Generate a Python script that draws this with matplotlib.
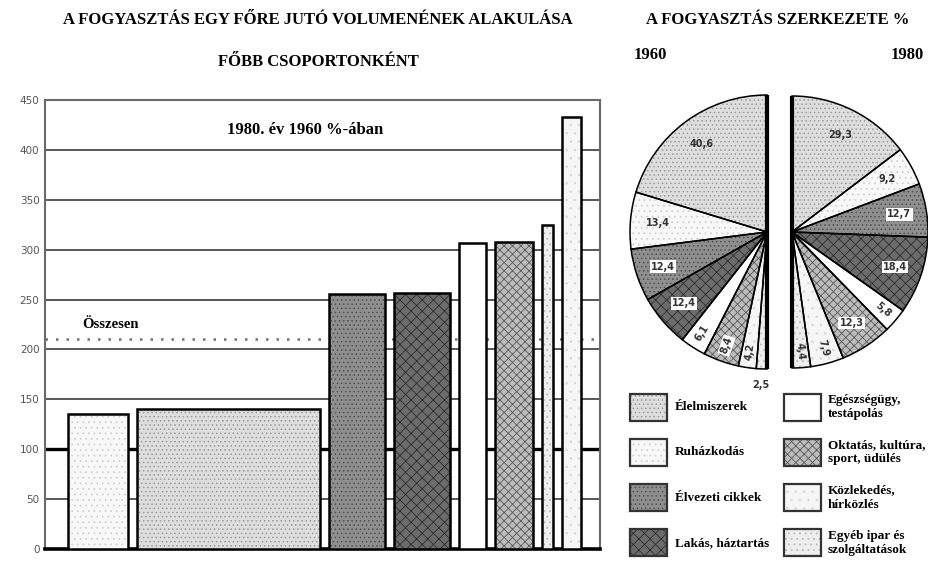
import numpy as np
import matplotlib
matplotlib.use('Agg')
import matplotlib.pyplot as plt
from matplotlib.patches import Rectangle

plt.rcParams['hatch.linewidth'] = 0.6

# consumption groups (same order in pies and legend)
categories = ['Élelmiszerek', 'Ruházkodás', 'Élvezeti cikkek', 'Lakás, háztartás',
              'Egészségügy,\ntestápolás', 'Oktatás, kultúra,\nsport, üdülés',
              'Közlekedés,\nhírközlés', 'Egyéb ipar és\nszolgáltatások']
# structure of consumption, %
share_1960 = [40.6, 13.4, 12.4, 12.4, 6.1, 8.4, 4.2, 2.5]
share_1980 = [29.3, 9.2, 12.7, 18.4, 5.8, 12.3, 7.9, 4.4]
# per capita volume, 1980 as % of 1960
volume_index = [140, 135, 256, 257, 307, 308, 433, 325]
total_index = 210
yticks = [0, 50, 100, 150, 200, 250, 300, 350, 400, 450]

# fill styles: face, hatch, hatch colour
faces = ['#dedede', '#f8f8f8', '#8f8f8f', '#6c6c6c', '#ffffff', '#bcbcbc', '#f6f6f6', '#eeeeee']
hatches = ['....', '...', '....', 'xxx', '', 'xxxx', '..', '...']
hcols = ['#9a9a9a', '#d2d2d2', '#505050', '#2e2e2e', '#ffffff', '#5a5a5a', '#d8d8d8', '#b8b8b8']

W, H = 929, 562
fig = plt.figure(figsize=(W / 100, H / 100), dpi=100)
serif = 'Liberation Serif'


def fx(x):
    return x / W


def fy(y):
    return 1 - y / H


# ---------------- bar chart ----------------
ax = fig.add_axes([fx(45), 13 / H, 555 / W, 449 / H])
px_per_unit = 4.5
ax.set_xlim(0, 555 / px_per_unit)
ax.set_ylim(0, 450)

order = np.argsort(volume_index)
gap = 2.0
left = 5.1
for i in order:
    w = share_1960[i]
    ax.bar(left, volume_index[i], width=w, align='edge', color=faces[i],
           edgecolor=hcols[i], hatch=hatches[i], linewidth=0, zorder=3)
    ax.bar(left, volume_index[i], width=w, align='edge', fill=False,
           edgecolor='black', linewidth=1.8, zorder=4)
    left += w + gap

ax.set_yticks(yticks)
ax.set_xticks([])
ax.yaxis.grid(True, color='#4a4a4a', linewidth=1.3)
ax.set_axisbelow(True)
ax.axhline(100, color='black', linewidth=2.4, zorder=2)
ax.axhline(total_index, color='#707070', linewidth=1.8, linestyle=(0, (1, 3.2)), zorder=2)
ax.tick_params(axis='y', length=0, labelsize=7.5, labelcolor='#555555', pad=4)
for s in ['left', 'top', 'right']:
    ax.spines[s].set_color('#6a6a6a')
    ax.spines[s].set_linewidth(1.5)
ax.spines['bottom'].set_color('black')
ax.spines['bottom'].set_linewidth(2.6)

fig.text(fx(305), fy(130), '1980. év 1960 %-ában', ha='center', va='center',
         fontsize=12, fontweight='bold', family=serif)
fig.text(fx(82), fy(325), 'Összesen', ha='left', va='center',
         fontsize=10.5, fontweight='bold', family=serif)

# titles
fig.text(fx(318), fy(20), 'A FOGYASZTÁS EGY FŐRE JUTÓ VOLUMENÉNEK ALAKULÁSA', ha='center',
         va='center', fontsize=12, fontweight='bold', family=serif)
fig.text(fx(318), fy(62), 'FŐBB CSOPORTONKÉNT', ha='center', va='center',
         fontsize=12, fontweight='bold', family=serif)
fig.text(fx(778), fy(20), 'A FOGYASZTÁS SZERKEZETE %', ha='center', va='center',
         fontsize=12, fontweight='bold', family=serif)
fig.text(fx(650), fy(55), '1960', ha='center', va='center',
         fontsize=12, fontweight='bold', family=serif)
fig.text(fx(907), fy(55), '1980', ha='center', va='center',
         fontsize=12, fontweight='bold', family=serif)

# ---------------- half pies ----------------
pax = fig.add_axes([fx(615), 172 / H, 314 / W, 310 / H])


def half_pie(values, center, r, ccw):
    vals = list(values) + [100]
    for layer in range(2):
        if layer == 0:
            wedges, _ = pax.pie(vals, startangle=90, counterclock=ccw, center=center, radius=r,
                                colors=faces + ['white'], wedgeprops=dict(linewidth=0))
            for k, wd in enumerate(wedges[:-1]):
                wd.set_hatch(hatches[k])
                wd.set_edgecolor(hcols[k])
        else:
            wedges, _ = pax.pie(vals, startangle=90, counterclock=ccw, center=center, radius=r,
                                wedgeprops=dict(fill=False, edgecolor='black', linewidth=1.1))
        wedges[-1].set_visible(False)
    pax.plot([center[0], center[0]], [center[1] - r, center[1] + r], color='black',
             linewidth=3, solid_capstyle='butt')
    sign = 1 if ccw else -1
    cum = 0
    for k, v in enumerate(values):
        theta = 90 + sign * (cum + v / 2) * 1.8
        cum += v
        if v < 3:
            rr, rot = 1.12, 0
        elif v < 9:
            rr = 0.88
            rot = theta - 180 if ccw else theta
        else:
            rr, rot = 0.8, 0
        t = np.deg2rad(theta)
        box = dict(boxstyle='square,pad=0.12', fc='white', ec='none') if k in (2, 3, 4, 5) else None
        pax.text(center[0] + rr * r * np.cos(t), center[1] + rr * r * np.sin(t),
                 f'{v:.1f}'.replace('.', ','), ha='center', va='center', rotation=rot,
                 fontsize=7, fontweight='bold', color='#333333', bbox=box)


half_pie(share_1960, (767, H - 232), 137, True)
half_pie(share_1980, (792, H - 232), 136, False)
pax.set_xlim(615, 929)
pax.set_ylim(H - 390, H - 80)
pax.set_aspect('auto')
pax.axis('off')

# ---------------- legend ----------------
for i, cat in enumerate(categories):
    col, row = divmod(i, 4)
    x0 = 630 if col == 0 else 784
    yc = 407 + row * 45.3
    rect_fill = Rectangle((fx(x0), fy(yc + 13.5)), 37 / W, 27 / H, transform=fig.transFigure,
                          facecolor=faces[i], edgecolor=hcols[i], hatch=hatches[i], linewidth=0)
    rect_edge = Rectangle((fx(x0), fy(yc + 13.5)), 37 / W, 27 / H, transform=fig.transFigure,
                          fill=False, edgecolor='#333333', linewidth=1.6)
    fig.add_artist(rect_fill)
    fig.add_artist(rect_edge)
    tx = x0 + 45 if col == 0 else x0 + 44
    fig.text(fx(tx), fy(yc), cat, ha='left', va='center', fontsize=9.5,
             fontweight='bold', family=serif, linespacing=1.25)

fig.savefig('out.png', dpi=100)
